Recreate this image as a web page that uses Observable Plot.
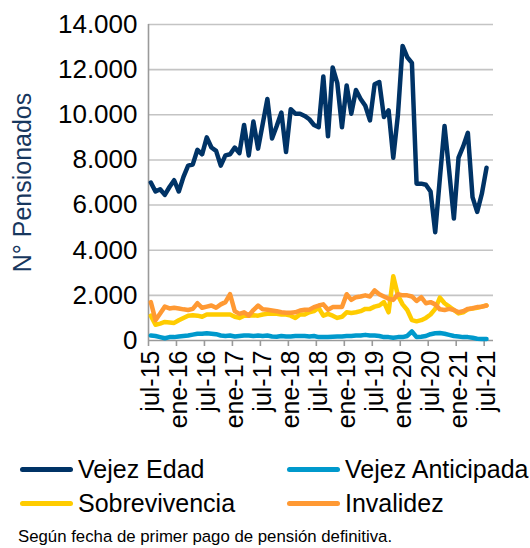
<!DOCTYPE html>
<html><head><meta charset="utf-8">
<script src="https://cdn.jsdelivr.net/npm/d3@7"></script>
<script src="https://cdn.jsdelivr.net/npm/@observablehq/plot@0.6"></script>
<style>
body{margin:0;background:#fff;font-family:"Liberation Sans",Arial,sans-serif;width:530px;height:548px;overflow:hidden;}
#legend{display:grid;grid-template-columns:267px 243px;margin-left:20px;padding-top:4px;}
.item{display:flex;align-items:center;height:34px;font-size:25px;color:#000;white-space:nowrap;}
.sw{width:53px;height:5px;border-radius:3px;margin-right:5px;flex:none;}
#caption{font-size:16.8px;margin:7px 0 0 18px;color:#000;white-space:nowrap;}
</style></head><body>
<div id="chart"></div>
<div id="legend"></div>
<div id="caption">Según fecha de primer pago de pensión definitiva.</div>
<script>
// Monthly series, jul-15 (index 0) .. jul-21 (index 72)
const vejezEdad = [7000,6600,6700,6450,6800,7100,6600,7250,7750,7800,8450,8250,9000,8550,8400,7750,8200,8250,8550,8300,9550,8200,9700,8500,9600,10700,8950,9500,10100,8350,10250,10050,10050,9950,9800,9550,9450,11700,9050,12100,11400,9450,11300,10050,11100,10700,10400,9750,11350,11450,9900,10200,8100,10000,13050,12550,12300,6950,6950,6900,6600,4800,7200,9500,7500,5400,8100,8600,9200,6350,5700,6500,7650];
const vejezAnticipada = [220,200,150,100,150,150,180,200,220,260,300,300,320,300,280,220,200,220,180,200,220,220,200,220,200,220,180,170,200,180,180,200,200,200,180,200,150,150,150,170,180,180,200,200,220,220,250,220,220,200,150,150,120,150,150,200,400,150,170,200,280,320,330,300,250,200,180,150,150,120,80,70,70];
const sobrevivencia = [1100,700,750,820,800,780,900,1000,1100,1120,1100,1050,1150,1150,1150,1150,1150,1150,1050,1000,1100,1100,1120,1100,1150,1180,1200,1180,1150,1150,1100,1000,1150,1150,1250,1300,1450,1100,1180,1100,1000,1050,1250,1220,1250,1300,1400,1400,1500,1550,1700,1250,2850,2000,1600,1350,900,850,900,1000,1150,1400,1900,1650,1500,1350,1200,1250,1380,1420,1450,1500,1550];
const invalidez = [1700,900,1200,1500,1420,1450,1420,1380,1350,1400,1650,1450,1500,1550,1450,1600,1700,2050,1300,1180,1250,1100,1350,1550,1380,1360,1330,1300,1250,1230,1230,1250,1330,1360,1360,1480,1550,1600,1360,1480,1480,1480,2050,1800,1920,1950,2000,1950,2220,2050,1950,1850,1800,2050,2000,2000,1950,1750,1920,1650,1700,1600,1380,1350,1400,1350,1250,1300,1400,1430,1480,1500,1550];

const seriesNames = ["Vejez Edad","Vejez Anticipada","Sobrevivencia","Invalidez"];
const seriesColors = ["#003366","#0099cc","#ffcc00","#ff9933"];
const seriesValues = [vejezEdad, vejezAnticipada, sobrevivencia, invalidez];

const xTickIndex = [0,6,12,18,24,30,36,42,48,54,60,66,72];
const xTickLabels = ["jul-15","ene-16","jul-16","ene-17","jul-17","ene-18","jul-18","ene-19","jul-19","ene-20","jul-20","ene-21","jul-21"];
const yTicks = [0,2000,4000,6000,8000,10000,12000,14000];
const yTickLabels = ["0","2.000","4.000","6.000","8.000","10.000","12.000","14.000"];
const yTitle = "N° Pensionados";

const data = seriesNames.flatMap((name, k) => seriesValues[k].map((v, i) => ({i, v, name})));

const chart = Plot.plot({
  width: 530, height: 448,
  marginLeft: 148, marginRight: 37, marginTop: 24, marginBottom: 108,
  style: {fontFamily: "Liberation Sans, Arial, sans-serif", fontSize: "24px", color: "#000", background: "#fff"},
  x: {domain: [-0.5, 73.5]},
  y: {domain: [0, 14000]},
  color: {domain: seriesNames, range: seriesColors},
  marks: [
    Plot.ruleY(yTicks.filter(d => d > 0), {stroke: "#c4c4c4", strokeWidth: 1.6}),
    Plot.ruleX([-0.5], {stroke: "#9a9a9a", strokeWidth: 1.6}),
    Plot.ruleY([0], {stroke: "#9a9a9a", strokeWidth: 1.6}),
    Plot.axisX({ticks: xTickIndex.map(i => i - 0.5), tickSize: 6, text: null, stroke: "#9a9a9a", strokeWidth: 1.6, label: null}),
    Plot.axisX({ticks: xTickIndex, tickSize: 0, tickPadding: 10, tickRotate: -90, textAnchor: "end", lineAnchor: "middle",
      tickFormat: d => xTickLabels[xTickIndex.indexOf(d)], fontSize: 25, fill: "#000", label: null}),
    Plot.axisY({ticks: yTicks, tickSize: 0, tickPadding: 11, tickFormat: d => yTickLabels[yTicks.indexOf(d)], fontSize: 26, fill: "#000", label: null}),
    Plot.text([yTitle], {frameAnchor: "left", rotate: -90, dx: -135, lineAnchor: "top", textAnchor: "middle", fill: "#17375e", fontSize: 25}),
    Plot.line(data, {x: "i", y: "v", z: "name", stroke: "name", strokeWidth: 4.5, strokeLinejoin: "round", strokeLinecap: "round"})
  ]
});
document.getElementById("chart").appendChild(chart);

const legend = document.getElementById("legend");
seriesNames.forEach((name, k) => {
  const item = document.createElement("div");
  item.className = "item";
  const sw = document.createElement("span");
  sw.className = "sw";
  sw.style.background = seriesColors[k];
  const t = document.createElement("span");
  t.textContent = name;
  item.appendChild(sw); item.appendChild(t);
  legend.appendChild(item);
});
</script>
</body></html>
